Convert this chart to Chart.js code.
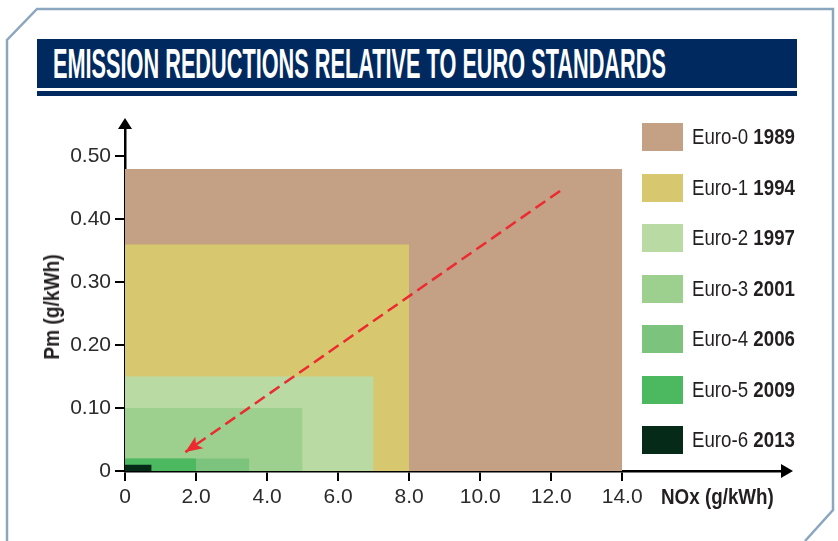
<!DOCTYPE html>
<html lang="en">
<head>
<meta charset="UTF-8">
<title>Emission reductions relative to Euro standards</title>
<script src="https://cdn.jsdelivr.net/npm/chart.js@4.4.1/dist/chart.umd.min.js"></script>
<style>
*{box-sizing:border-box;margin:0;padding:0}
body{width:838px;height:541px;background:#fff;position:relative;overflow:hidden;font-family:'Liberation Sans',Arial,sans-serif;color:#231f20}
#frame{position:absolute;left:0;top:0}
#chart{position:absolute;left:0;top:0}
#banner{position:absolute;left:37px;top:39px;width:760px;height:49px;background:#002a5f;overflow:hidden}
#banner span{position:absolute;left:16px;top:1px;font-size:42px;font-weight:bold;color:#fff;white-space:nowrap;line-height:48px;transform:scaleX(.517);transform-origin:0 50%;letter-spacing:0}
#stripe{position:absolute;left:37px;top:91px;width:760px;height:5px;background:#002a5f}
#legend{position:absolute;left:642px;top:123px}
.li{position:absolute;left:0;width:200px;height:28px}
.li .sw{position:absolute;left:0;top:0;width:41px;height:28px}
.li .tx{position:absolute;left:50px;top:0;line-height:28px;font-size:22px;white-space:nowrap;transform:scaleX(.85);transform-origin:0 50%}
.li b{font-weight:bold}
.axt{position:absolute;font-size:22px;font-weight:bold;white-space:nowrap;line-height:24px}
#xt{left:661px;top:485px;transform:scaleX(.855);transform-origin:0 50%}
#yt{left:52px;top:307px;transform:translate(-50%,-50%) rotate(-90deg) scaleX(.87)}
</style>
</head>
<body>
<svg id="frame" width="838" height="541"><polyline points="7,541 7,40 37,9 833,9 833,510 805,541" fill="none" stroke="#8ba7c0" stroke-width="2.5"/></svg>
<canvas id="chart" width="838" height="541"></canvas>
<div id="banner"><span>EMISSION REDUCTIONS RELATIVE TO EURO STANDARDS</span></div>
<div id="stripe"></div>
<div id="legend"></div>
<div class="axt" id="xt">NOx (g/kWh)</div>
<div class="axt" id="yt">Pm (g/kWh)</div>
<script>
// ── data ──
const standards=['Euro-0','Euro-1','Euro-2','Euro-3','Euro-4','Euro-5','Euro-6'];
const years=['1989','1994','1997','2001','2006','2009','2013'];
const noxLimit=[14.0,8.0,7.0,5.0,3.5,2.0,0.75];   // g/kWh
const pmLimit=[0.48,0.36,0.15,0.10,0.02,0.02,0.01]; // g/kWh
const colors=['#c4a084','#d7c76e','#b9dba3','#9dd08e','#7cc47d','#4cb860','#062a18'];
const xTickValues=[0,2,4,6,8,10,12,14];
const xTickLabels=['0','2.0','4.0','6.0','8.0','10.0','12.0','14.0'];
const yTickValues=[0,0.1,0.2,0.3,0.4,0.5];
const yTickLabels=['0','0.10','0.20','0.30','0.40','0.50'];
const trendX=[12.25,1.7];
const trendY=[0.445,0.03];

// legend
document.getElementById('legend').innerHTML=standards.map((s,i)=>
  `<div class="li" style="top:${Math.round(i*50.5)}px"><span class="sw" style="background:${colors[i]}"></span><span class="tx">${s} <b>${years[i]}</b></span></div>`).join('');

// arrows on axes + trend arrow head
const arrowPlugin={
  id:'arrows',
  afterDraw(chart){
    const {ctx,chartArea:a}=chart;
    ctx.save();
    ctx.fillStyle='#000';
    ctx.beginPath();ctx.moveTo(a.left,a.top-10);ctx.lineTo(a.left-7,a.top+1);ctx.lineTo(a.left+7,a.top+1);ctx.closePath();ctx.fill();
    ctx.beginPath();ctx.moveTo(a.right+11,a.bottom);ctx.lineTo(a.right-1,a.bottom-7);ctx.lineTo(a.right-1,a.bottom+7);ctx.closePath();ctx.fill();
    const pts=chart.getDatasetMeta(standards.length).data;
    const p0=pts[0],p1=pts[1];
    const ang=Math.atan2(p1.y-p0.y,p1.x-p0.x);
    ctx.fillStyle='#ec2a30';
    ctx.translate(p1.x,p1.y);ctx.rotate(ang);
    ctx.beginPath();ctx.moveTo(0,0);ctx.lineTo(-17,-7);ctx.lineTo(-13,0);ctx.lineTo(-17,7);ctx.closePath();ctx.fill();
    ctx.restore();
  }
};

const rectSets=standards.map((s,i)=>({
  label:s,
  data:[{x:0,y:pmLimit[i]},{x:noxLimit[i],y:pmLimit[i]}],
  backgroundColor:colors[i],borderColor:colors[i],borderWidth:0,
  pointRadius:0,fill:'origin',order:standards.length-i
}));

Chart.defaults.font.family="'Liberation Sans Narrow','Liberation Sans',Arial,sans-serif";
Chart.defaults.color='#2b2b2b';

new Chart(document.getElementById('chart'),{
  type:'line',
  data:{datasets:[...rectSets,{
    label:'trend',
    data:trendX.map((x,i)=>({x,y:trendY[i]})),
    borderColor:'#ec2a30',borderWidth:2.5,borderDash:[12,6],pointRadius:0,fill:false,order:-1
  }]},
  options:{
    responsive:false,animation:false,devicePixelRatio:1,
    layout:{padding:{top:128,right:56,left:0,bottom:0}},
    plugins:{legend:{display:false},tooltip:{enabled:false}},
    scales:{
      x:{type:'linear',min:0,max:18.5,z:1,
        afterBuildTicks:s=>{s.ticks=xTickValues.map(v=>({value:v}));},
        afterFit:s=>{s.height=70;},
        ticks:{font:{size:21},padding:4,maxRotation:0,autoSkip:false,callback:(v,i)=>xTickLabels[i]},
        border:{color:'#000',width:2.5},
        grid:{drawOnChartArea:false,tickLength:10,color:'#000',lineWidth:2}},
      y:{type:'linear',min:0,max:0.545,z:1,
        afterBuildTicks:s=>{s.ticks=yTickValues.map(v=>({value:v}));},
        afterFit:s=>{s.width=125;},
        ticks:{font:{size:21},padding:4,autoSkip:false,callback:(v,i)=>yTickLabels[i]},
        border:{color:'#000',width:2.5},
        grid:{drawOnChartArea:false,tickLength:10,color:'#000',lineWidth:2}}
    }
  },
  plugins:[arrowPlugin]
});
</script>
</body>
</html>
